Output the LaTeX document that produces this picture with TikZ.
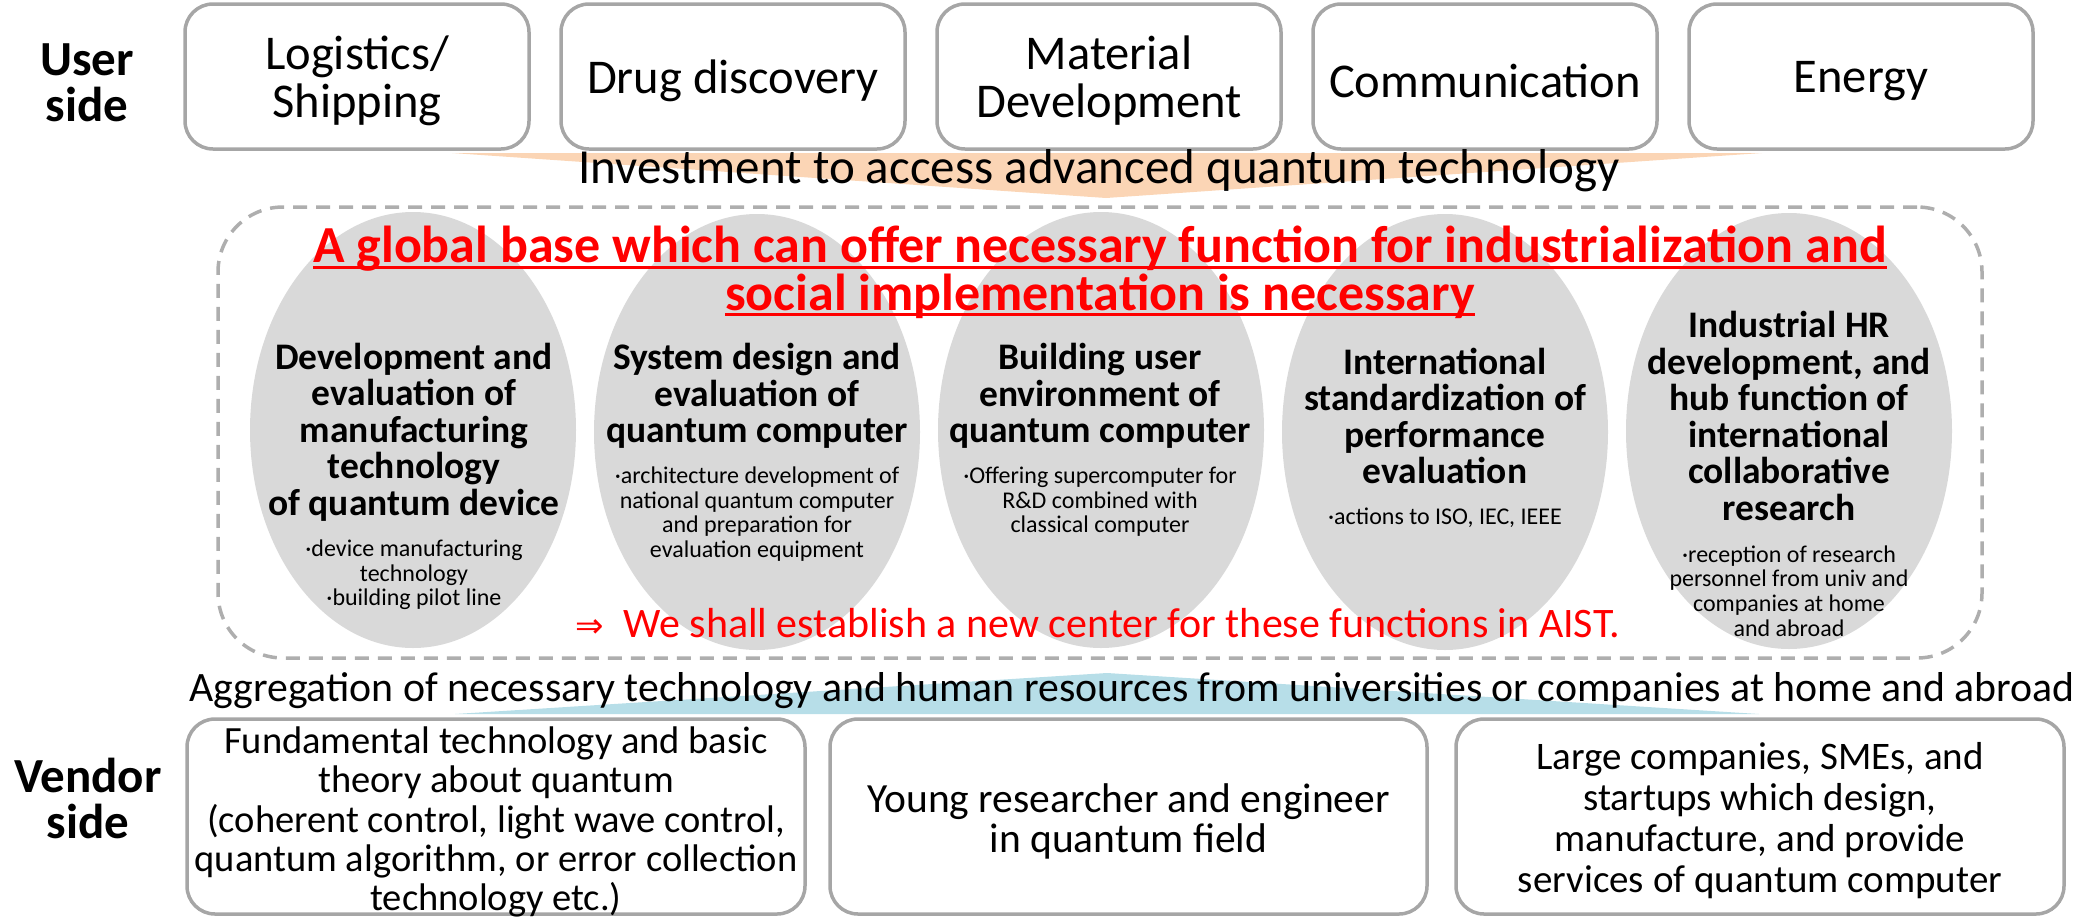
\documentclass[tikz,border=0pt]{standalone}
\usepackage{fontspec}
\setmainfont{Carlito}
\newfontfamily\arrowfont{DejaVu Sans}
\usetikzlibrary{shapes.geometric}
\definecolor{boxgrey}{HTML}{A6A6A6}
\definecolor{ellgrey}{HTML}{D9D9D9}
\definecolor{dashgrey}{HTML}{AEAEAE}
\definecolor{peach}{HTML}{FBD5B5}
\definecolor{skyblue}{HTML}{B7DEE8}
\definecolor{titlered}{HTML}{FF0000}
\newcommand\setfs[2]{\fontsize{#1}{#2}\selectfont}
\newsavebox\myulbox
\newcommand\myuline[1]{\sbox\myulbox{#1}\rlap{\rule[-6pt]{\wd\myulbox}{3pt}}\usebox\myulbox}
\begin{document}
\begin{tikzpicture}[x=1pt,y=-1pt,
  roundbox/.style={draw=boxgrey, line width=3.5pt, rounded corners=28pt, fill=white, align=center, inner sep=0pt},
  topbox/.style={roundbox, minimum width=344pt, minimum height=145pt},
  toptext/.style={align=center, font=\setfs{48.5}{48}},
  botbox/.style={roundbox, minimum height=195pt},
  bottext/.style={align=center},
  sidelabel/.style={align=center, font=\setfs{49}{46}\bfseries},
  ell/.style={ellipse, fill=ellgrey, minimum width=326pt, minimum height=436pt, inner sep=0pt},
  head/.style={align=center, font=\setfs{37.5}{36.5}\bfseries},
  bul/.style={align=center, font=\setfs{24}{24.6}},
  titleline/.style={text=titlered, font=\setfs{52}{47}\bfseries, inner sep=0pt},
]
\useasboundingbox (0,0) rectangle (2089,922);

% arrows (flat triangles)
\fill[peach] (452,153) -- (1762,153) -- (1106,198) -- cycle;
\fill[skyblue] (455,714) -- (1107,673) -- (1759,714) -- cycle;

% user side
\node[sidelabel] (user) at (87,83) {User\\side};
\node[topbox] (u1) at (357,76.5) {};
\node[topbox] (u2) at (733,76.5) {};
\node[topbox] (u3) at (1109,76.5) {};
\node[topbox] (u4) at (1485,76.5) {};
\node[topbox] (u5) at (1861,76.5) {};
\node[toptext] (u1t) at (357,81) {Logistics/\\Shipping};
\node[toptext] (u2t) at (733,81) {Drug discovery};
\node[toptext] (u3t) at (1109,81) {Material\\Development};
\node[toptext] (u4t) at (1485,81) {Communication};
\node[toptext] (u5t) at (1861,81) {Energy};

\node[font=\setfs{49}{46}] (invest) at (1099,171) {Investment to access advanced quantum technology};

% base
\node[draw=dashgrey, dash pattern=on 14pt off 9pt, line width=3.5pt, rounded corners=65pt,
      minimum width=1764pt, minimum height=451pt] (base) at (1100,432.5) {};

\node[ell] (e1) at (413,430) {};
\node[ell] (e2) at (757,432) {};
\node[ell] (e3) at (1101,430) {};
\node[ell] (e4) at (1445,432) {};
\node[ell] (e5) at (1789,431) {};

\node[titleline] (t1) at (1100,249) {\myuline{A global base which can offer necessary function for industrialization and}};
\node[titleline] (t2) at (1100,296) {\myuline{social implementation is necessary}};

\node[head] (h1) at (414,432) {Development and\\evaluation of\\manufacturing\\technology\\of quantum device};
\node[bul] (b1) at (414,575) {·device manufacturing\\technology\\·building pilot line};

\node[head] (h2) at (757,396) {System design and\\evaluation of\\quantum computer};
\node[bul] (b2) at (757,514) {·architecture development of\\national quantum computer\\and preparation for\\evaluation equipment};

\node[head] (h3) at (1100,396) {Building user\\environment of\\quantum computer};
\node[bul] (b3) at (1100,502) {·Offering supercomputer for\\R\&D combined with\\classical computer};

\node[head] (h4) at (1445,416) {International\\standardization of\\performance\\evaluation};
\node[bul] (b4) at (1445,518) {·actions to ISO, IEC, IEEE};

\node[head] (h5) at (1789,416) {Industrial HR\\development, and\\hub function of\\international\\collaborative\\research};
\node[bul] (b5) at (1789,591) {·reception of research\\personnel from univ and\\companies at home\\and abroad};

\node[text=titlered, font=\setfs{42}{44}] (est) at (1098,623) {{\arrowfont\setfs{34}{40}⇒}\ \ We shall establish a new center for these functions in AIST.};

\node[font=\setfs{41.8}{42}] (agg) at (1132,691) {Aggregation of necessary technology and human resources from universities or companies at home and abroad};

% vendor side
\node[sidelabel] (vendor) at (88,798) {Vendor\\side};
\node[botbox, minimum width=618pt] (v1) at (496,816.5) {};
\node[botbox, minimum width=597pt] (v2) at (1128.5,816.5) {};
\node[botbox, minimum width=608pt] (v3) at (1760,816.5) {};
\node[bottext, font=\setfs{38.5}{39.3}] (v1t) at (496,822) {Fundamental technology and basic\\theory about quantum\\(coherent control, light wave control,\\quantum algorithm, or error collection\\technology etc.)};
\node[bottext, font=\setfs{41.5}{40}] (v2t) at (1128.5,821) {Young researcher and engineer\\in quantum field};
\node[bottext, font=\setfs{39}{41}] (v3t) at (1760,821) {Large companies, SMEs, and\\startups which design,\\manufacture, and provide\\services of quantum computer};
\end{tikzpicture}
\end{document}
